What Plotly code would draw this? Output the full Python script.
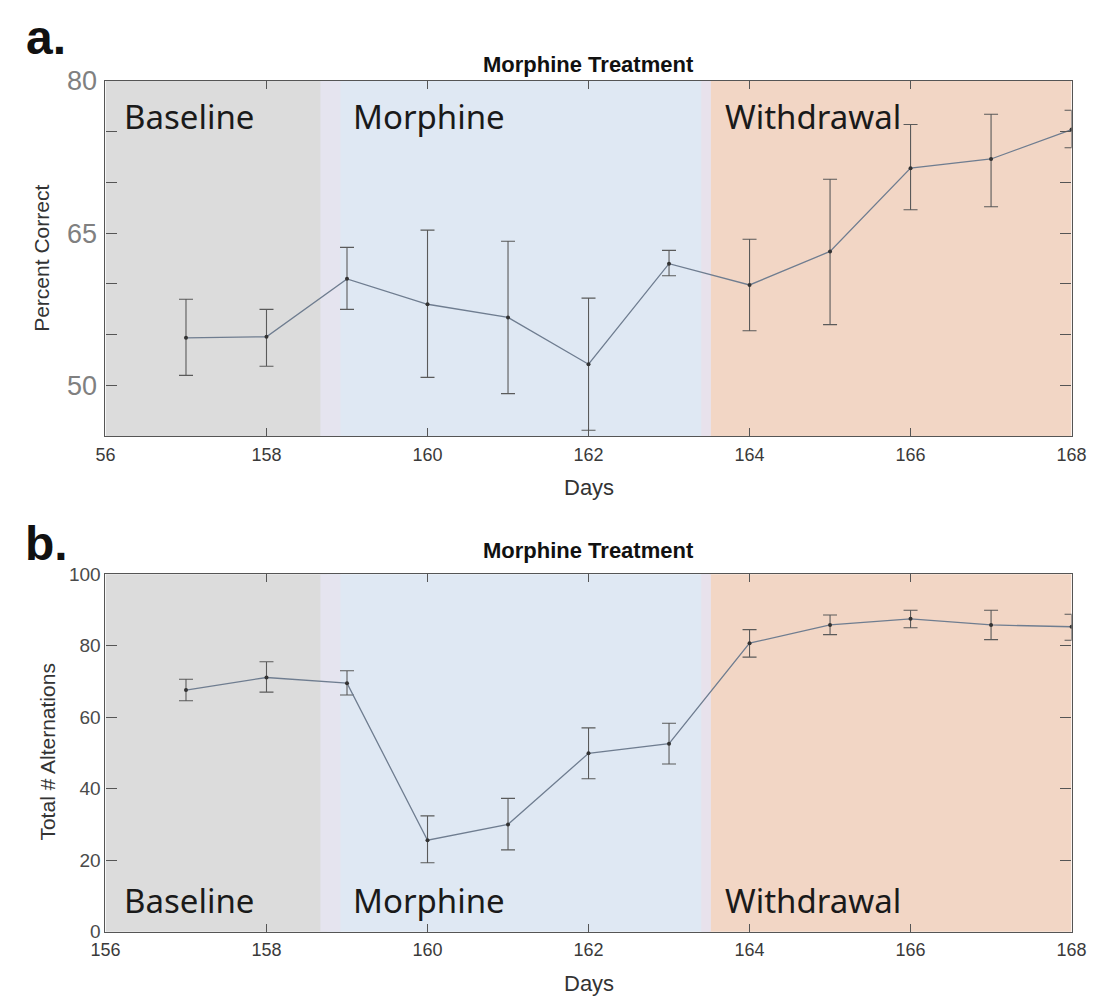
import plotly.graph_objects as go

days = [157, 158, 159, 160, 161, 162, 163, 164, 165, 166, 167, 168]

pct_mean = [54.7, 54.8, 60.5, 58.0, 56.7, 52.1, 62.0, 59.9, 63.2, 71.4, 72.3, 75.2]
pct_hi = [58.5, 57.5, 63.6, 65.3, 64.2, 58.6, 63.3, 64.4, 70.3, 75.7, 76.7, 77.1]
pct_lo = [51.0, 51.9, 57.5, 50.8, 49.2, 45.6, 60.8, 55.4, 56.0, 67.3, 67.6, 73.4]

alt_mean = [67.6, 71.1, 69.5, 25.6, 30.0, 49.9, 52.6, 80.7, 85.8, 87.5, 85.8, 85.3]
alt_hi = [70.6, 75.5, 73.0, 32.4, 37.3, 57.0, 58.3, 84.5, 88.6, 89.9, 89.9, 88.8]
alt_lo = [64.6, 67.0, 66.2, 19.3, 22.9, 42.8, 46.9, 76.8, 83.1, 85.0, 81.7, 81.5]

x_ticks = [156, 158, 160, 162, 164, 166, 168]
x_text_a = ["56", "158", "160", "162", "164", "166", "168"]
x_text_b = ["156", "158", "160", "162", "164", "166", "168"]
y_ticks_a = [50, 55, 60, 65, 70, 75, 80]
y_text_a = ["50", "", "", "65", "", "", "80"]
y_ticks_b = [0, 20, 40, 60, 80, 100]

phases = ["Baseline", "Morphine", "Withdrawal"]
phase_start = [156, 158.75, 163.5]
phase_end = [158.75, 163.5, 168]
phase_label_x = [156.2, 159.05, 163.67]
phase_colors = ["#dcdcdc", "#dfe8f3", "#f2d6c5"]

W, H = 1107, 1007
fig = go.Figure()

def add_series(mean, hi, lo, xa, ya):
    plus = [h - m for h, m in zip(hi, mean)]
    minus = [m - l for m, l in zip(mean, lo)]
    fig.add_trace(go.Scatter(
        x=days, y=mean, xaxis=xa, yaxis=ya, mode="lines+markers",
        line=dict(color="#6f7d90", width=1.3),
        marker=dict(color="#333333", size=4),
        error_y=dict(type="data", symmetric=False, array=plus, arrayminus=minus,
                     color="#5a5a5a", thickness=1.1, width=7),
        showlegend=False, hoverinfo="skip"))

add_series(pct_mean, pct_hi, pct_lo, "x", "y")
add_series(alt_mean, alt_hi, alt_lo, "x2", "y2")

shapes = []
annots = []
for xa, ya, ylab in [("x", "y", 76.5), ("x2", "y2", 8.7)]:
    for name, s, e, lx, c in zip(phases, phase_start, phase_end, phase_label_x, phase_colors):
        shapes.append(dict(type="rect", xref=xa, yref=ya + " domain", x0=s, x1=e, y0=0, y1=1,
                           fillcolor=c, line_width=0, layer="below"))
        annots.append(dict(text=name, x=lx, y=ylab, xref=xa, yref=ya, xanchor="left",
                           yanchor="middle", showarrow=False,
                           font=dict(family="Noto Sans", size=33, color="#1a1a1a")))
    shapes.append(dict(type="rect", xref=xa, yref=ya + " domain", x0=158.67, x1=158.92, y0=0, y1=1,
                       fillcolor="#e5e4ef", line_width=0, layer="below"))
    shapes.append(dict(type="rect", xref=xa, yref=ya + " domain", x0=163.4, x1=163.52, y0=0, y1=1,
                       fillcolor="#e8e2ec", line_width=0, layer="below"))

def px(xp):
    return xp / W

def py(yp):
    return 1 - yp / H

def paper_text(text, xp, yp, size, bold=False, angle=0, color="#222222"):
    annots.append(dict(text=("<b>" + text + "</b>") if bold else text,
                       x=px(xp), y=py(yp), xref="paper", yref="paper",
                       xanchor="center", yanchor="middle", showarrow=False, textangle=angle,
                       font=dict(family="Liberation Sans", size=size, color=color)))

paper_text("a.", 32, 23, 48, bold=True, color="#111111")
paper_text("b.", 32, 542, 48, bold=True, color="#111111")
paper_text("Morphine Treatment", 589.5, 51, 22, bold=True, color="#111111")
paper_text("Morphine Treatment", 589.5, 550, 22, bold=True, color="#111111")
paper_text("Days", 589.5, 485, 22, color="#333333")
paper_text("Days", 589.5, 994, 22, color="#333333")
paper_text("Percent Correct", 27, 250, 21, angle=-90, color="#333333")
paper_text("Total # Alternations", 33, 757, 21, angle=-90, color="#333333")

ax_x = dict(showline=True, linecolor="#555555", linewidth=1.2, mirror="ticks",
            ticks="inside", ticklen=8, tickcolor="#555555", showgrid=False, zeroline=False)
ax_y = dict(ax_x, ticklen=11)

fig.update_layout(
    width=W, height=H, margin=dict(l=0, r=0, t=0, b=0),
    paper_bgcolor="white", plot_bgcolor="rgba(0,0,0,0)",
    shapes=shapes, annotations=annots,
    xaxis=dict(domain=[px(93), px(1086)], range=[156, 168], anchor="y",
               tickvals=x_ticks, ticktext=x_text_a, ticklabelstandoff=2,
               tickfont=dict(family="Liberation Sans", size=18, color="#3a3a3a"),
               **ax_x),
    yaxis=dict(domain=[py(432.5), py(67.5)], range=[45, 80], anchor="x",
               tickvals=y_ticks_a, ticktext=y_text_a, ticklabelstandoff=2,
               tickfont=dict(family="Liberation Sans", size=27, color="#808080"),
               **ax_y),
    xaxis2=dict(domain=[px(93), px(1086)], range=[156, 168], anchor="y2",
                tickvals=x_ticks, ticktext=x_text_b, ticklabelstandoff=2,
                tickfont=dict(family="Liberation Sans", size=18, color="#3a3a3a"),
                **ax_x),
    yaxis2=dict(domain=[py(941), py(574)], range=[0, 100], anchor="x2",
                tickvals=y_ticks_b, ticklabelstandoff=0,
                tickfont=dict(family="Liberation Sans", size=19, color="#4a4a4a"),
                **ax_y),
)

fig.write_html("out.html")
